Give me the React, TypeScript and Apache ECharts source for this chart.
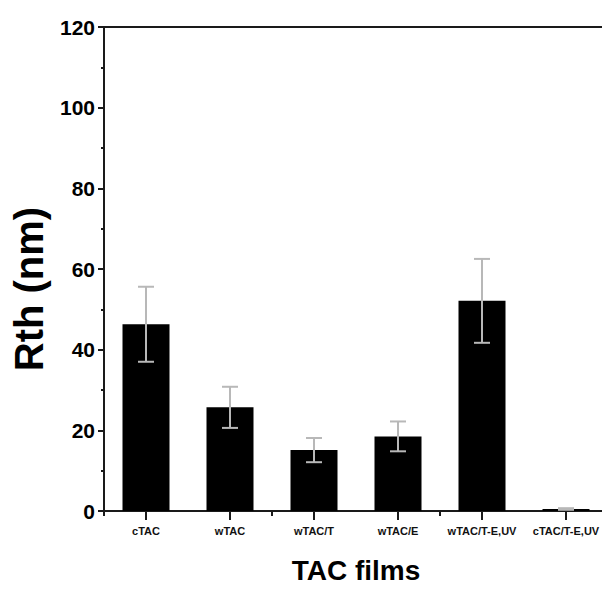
import React, { useEffect, useRef } from "react";
import * as echarts from "echarts";

const categories = ["cTAC", "wTAC", "wTAC/T", "wTAC/E", "wTAC/T-E,UV", "cTAC/T-E,UV"];
const rthMean = [46.3, 25.7, 15.1, 18.5, 52.1, 0.5];
const rthErr = [9.3, 5.1, 3.0, 3.7, 10.4, 0.2];
const yTicks = [0, 20, 40, 60, 80, 100, 120];

const FONT = "'Liberation Sans', Arial, sans-serif";

export default function App() {
  const ref = useRef<HTMLDivElement>(null);
  useEffect(() => {
    if (!ref.current) return;
    const chart = echarts.init(ref.current, null, { renderer: "svg" });
    const errData = rthMean.map((m, i) => [i, m - rthErr[i], m + rthErr[i]]);
    chart.setOption({
      animation: false,
      backgroundColor: "#ffffff",
      grid: { left: 104, top: 27, width: 504, bottom: 79, containLabel: false, outerBoundsMode: "none" },
      xAxis: [
        {
          type: "category",
          data: categories,
          position: "bottom",
          axisLine: { show: true, lineStyle: { color: "#1a1a1a", width: 2 } },
          axisTick: { show: true, alignWithLabel: true, length: 9, lineStyle: { color: "#1a1a1a", width: 2 } },
          axisLabel: { color: "#111", fontFamily: FONT, fontSize: 11, fontWeight: "bold", margin: 14, interval: 0 },
          name: "TAC films",
          nameLocation: "middle",
          nameGap: 45,
          nameTextStyle: { color: "#000", fontFamily: FONT, fontSize: 28, fontWeight: "bold" },
          splitLine: { show: false },
        },
        {
          type: "category",
          data: categories,
          position: "bottom",
          axisLine: { show: false },
          axisTick: { show: true, alignWithLabel: false, length: 5, lineStyle: { color: "#1a1a1a", width: 2 } },
          axisLabel: { show: false },
          splitLine: { show: false },
        },
        {
          type: "category",
          data: categories,
          position: "top",
          axisLine: { show: true, lineStyle: { color: "#1a1a1a", width: 2 } },
          axisTick: { show: false },
          axisLabel: { show: false },
          splitLine: { show: false },
        },
      ],
      yAxis: {
        type: "value",
        min: yTicks[0],
        max: yTicks[yTicks.length - 1],
        interval: 20,
        axisLine: { show: true, lineStyle: { color: "#1a1a1a", width: 2 } },
        axisTick: { show: true, length: 6, lineStyle: { color: "#1a1a1a", width: 2 } },
        minorTick: { show: true, splitNumber: 2, length: 3, lineStyle: { color: "#1a1a1a", width: 2 } },
        axisLabel: { color: "#000", fontFamily: FONT, fontSize: 21, fontWeight: "bold", margin: 9 },
        splitLine: { show: false },
        name: "Rth (nm)",
        nameLocation: "middle",
        nameGap: 53,
        nameRotate: 90,
        nameTextStyle: { color: "#000", fontFamily: FONT, fontSize: 40, fontWeight: "bold", padding: [0, 40, 0, 0] },
      },
      series: [
        {
          type: "bar",
          data: rthMean,
          xAxisIndex: 0,
          barWidth: 47,
          itemStyle: { color: "#000" },
          z: 2,
        },
        {
          type: "custom",
          xAxisIndex: 0,
          data: errData,
          z: 3,
          renderItem: (params: any, api: any) => {
            const x = api.value(0);
            const lo = api.coord([x, api.value(1)]);
            const hi = api.coord([x, api.value(2)]);
            const half = 8;
            const style = { stroke: "#b8b8b8", lineWidth: 2, fill: "none" };
            return {
              type: "group",
              children: [
                { type: "line", shape: { x1: hi[0], y1: hi[1], x2: lo[0], y2: lo[1] }, style },
                { type: "line", shape: { x1: hi[0] - half, y1: hi[1], x2: hi[0] + half, y2: hi[1] }, style },
                { type: "line", shape: { x1: lo[0] - half, y1: lo[1], x2: lo[0] + half, y2: lo[1] }, style },
              ],
            };
          },
        },
      ],
    });
    return () => chart.dispose();
  }, []);
  return <div ref={ref} style={{ width: 602, height: 590, position: "absolute", left: 0, top: 0 }} />;
}
